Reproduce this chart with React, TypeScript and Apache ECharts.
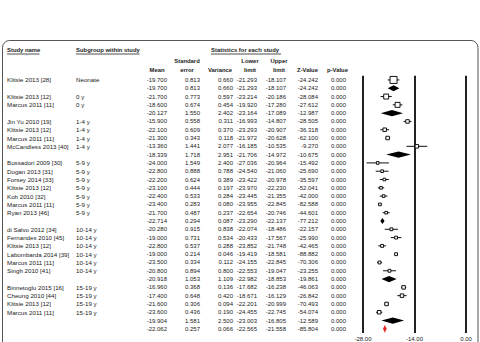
import React, { useEffect, useRef } from "react";
import * as echarts from "echarts";

// Forest plot: mean differences by age subgroup
const studyNames = [
  "Klitsie 2013 [28]", "", "Klitsie 2013 [12]", "Marcus 2011 [11]", "",
  "Jin Yu 2010 [19]", "Klitsie 2013 [12]", "Marcus 2011 [11]", "McCandless 2013 [40]", "",
  "Bussadori 2009 [30]", "Dogan 2013 [31]", "Forsey 2014 [33]", "Klitsie 2013 [12]", "Koh 2010 [32]",
  "Marcus 2011 [11]", "Ryan 2013 [46]", "",
  "di Salvo 2012 [34]", "Fernandes 2010 [45]", "Klitsie 2013 [12]", "Labombarda 2014 [39]", "Marcus 2011 [11]",
  "Singh 2010 [41]", "",
  "Binnetoglu 2015 [16]", "Cheung 2010 [44]", "Klitsie 2013 [12]", "Marcus 2011 [11]", "", "",
];
const subgroups = [
  "Neonate", "", "0 y", "0 y", "",
  "1-4 y", "1-4 y", "1-4 y", "1-4 y", "",
  "5-9 y", "5-9 y", "5-9 y", "5-9 y", "5-9 y", "5-9 y", "5-9 y", "",
  "10-14 y", "10-14 y", "10-14 y", "10-14 y", "10-14 y", "10-14 y", "",
  "15-19 y", "15-19 y", "15-19 y", "15-19 y", "", "",
];
const rowKinds = [
  "study", "sub", "study", "study", "sub",
  "study", "study", "study", "study", "sub",
  "study", "study", "study", "study", "study", "study", "study", "sub",
  "study", "study", "study", "study", "study", "study", "sub",
  "study", "study", "study", "study", "sub", "total",
];
const means = [
  -19.7, -19.7, -21.7, -18.6, -20.127,
  -15.9, -22.1, -21.3, -13.36, -18.339,
  -24.0, -22.8, -22.2, -23.1, -22.4, -23.4, -21.7, -22.714,
  -20.28, -19.0, -22.8, -19.0, -23.5, -20.8, -20.918,
  -16.96, -17.4, -21.6, -23.6, -19.904, -22.062,
];
const stdErrs = [
  0.813, 0.813, 0.773, 0.674, 1.55,
  0.558, 0.609, 0.343, 1.441, 1.718,
  1.549, 0.888, 0.624, 0.444, 0.533, 0.283, 0.487, 0.294,
  0.915, 0.731, 0.537, 0.214, 0.334, 0.894, 1.053,
  0.368, 0.648, 0.306, 0.436, 1.581, 0.257,
];
const variances = [
  0.66, 0.66, 0.597, 0.454, 2.402,
  0.311, 0.37, 0.118, 2.077, 2.951,
  2.4, 0.788, 0.389, 0.197, 0.284, 0.08, 0.237, 0.087,
  0.838, 0.534, 0.288, 0.046, 0.112, 0.8, 1.109,
  0.136, 0.42, 0.094, 0.19, 2.5, 0.066,
];
const lowerLimits = [
  -21.293, -21.293, -23.214, -19.92, -23.164,
  -16.993, -23.293, -21.972, -16.185, -21.706,
  -27.036, -24.54, -23.422, -23.97, -23.445, -23.955, -22.654, -23.29,
  -22.074, -20.433, -23.852, -19.419, -24.155, -22.553, -22.982,
  -17.682, -18.671, -22.201, -24.455, -23.003, -22.565,
];
const upperLimits = [
  -18.107, -18.107, -20.186, -17.28, -17.089,
  -14.807, -20.907, -20.628, -10.535, -14.972,
  -20.964, -21.06, -20.978, -22.23, -21.355, -22.845, -20.746, -22.137,
  -18.486, -17.567, -21.748, -18.581, -22.845, -19.047, -18.853,
  -16.238, -16.129, -20.999, -22.745, -16.805, -21.558,
];
const zValues = [
  -24.242, -24.242, -28.084, -27.612, -12.987,
  -28.505, -36.318, -62.1, -9.27, -10.675,
  -15.492, -25.69, -35.597, -52.041, -42.0, -82.588, -44.601, -77.212,
  -22.157, -25.99, -42.465, -88.882, -70.306, -23.255, -19.861,
  -46.063, -26.842, -70.493, -54.074, -12.589, -85.804,
];
const pValues = new Array(31).fill(0);

const axisTicks = [-28, -14, 0];

const FONT = "'Liberation Sans', Arial, sans-serif";
const INK = "#222";

// numeric columns: right edge of each column
const numCols: { values: number[]; right: number; digits: number }[] = [
  { values: means, right: 167, digits: 3 },
  { values: stdErrs, right: 200, digits: 3 },
  { values: variances, right: 233, digits: 3 },
  { values: lowerLimits, right: 257, digits: 3 },
  { values: upperLimits, right: 286, digits: 3 },
  { values: zValues, right: 318, digits: 3 },
  { values: pValues, right: 346, digits: 3 },
];

function studiesInGroup(label: string): number {
  return rowKinds.filter((k, i) => k === "study" && subgroups[i] === label).length;
}

export default function App() {
  const ref = useRef<HTMLDivElement>(null);

  useEffect(() => {
    if (!ref.current) return;
    const chart = echarts.init(ref.current, null, { renderer: "svg" });
    const rowIdx = means.map((_, i) => String(i));

    const hdr = (text: string, x: number, y: number, align = "center") => ({
      type: "text",
      x,
      y,
      style: {
        text,
        fill: INK,
        font: `bold 5.9px ${FONT}`,
        align,
        verticalAlign: "middle",
      },
    });
    const underline = (x1: number, x2: number, y: number) => ({
      type: "line",
      shape: { x1, y1: y, x2, y2: y },
      style: { stroke: INK, lineWidth: 0.8 },
    });

    const option: any = {
      animation: false,
      textStyle: { fontFamily: FONT },
      grid: { left: 363, right: 14, top: 75.8, height: 260.4 },
      xAxis: {
        type: "value",
        min: axisTicks[0],
        max: axisTicks[axisTicks.length - 1],
        interval: 14,
        axisLine: { show: false },
        axisTick: { show: false },
        splitLine: { show: true, lineStyle: { color: "#222", width: 2 } },
        axisLabel: {
          color: INK,
          fontSize: 6,
          fontFamily: FONT,
          margin: 3,
          formatter: (v: number) => v.toFixed(2),
        },
      },
      yAxis: {
        type: "category",
        data: rowIdx,
        inverse: true,
        show: false,
      },
      graphic: [
        {
          type: "rect",
          shape: { x: 2.5, y: 40.5, width: 475.5, height: 340, r: 7 },
          style: { fill: "none", stroke: "#555", lineWidth: 1 },
        },
        hdr("Study name", 7, 50, "left"),
        underline(7, 39.5, 54),
        hdr("Subgroup within study", 76, 50, "left"),
        underline(76, 139.5, 54),
        hdr("Statistics for each study", 211, 50, "left"),
        underline(211, 281, 54),
        hdr("Standard", 187, 61),
        hdr("error", 187, 69.5),
        hdr("Mean", 157, 69.5),
        hdr("Variance", 220, 69.5),
        hdr("Lower", 250, 61),
        hdr("limit", 250, 69.5),
        hdr("Upper", 279, 61),
        hdr("limit", 279, 69.5),
        hdr("Z-Value", 307.5, 69.5),
        hdr("p-Value", 337.5, 69.5),
      ],
      series: [
        {
          // table body: one row of text per data row
          type: "custom",
          coordinateSystem: "cartesian2d",
          clip: false,
          silent: true,
          data: means.map((_, i) => [axisTicks[0], i]),
          encode: { x: 0, y: 1 },
          renderItem: (params: any, api: any) => {
            const i = params.dataIndex;
            const y = api.coord([axisTicks[0], i])[1];
            const txt = (text: string, x: number, align: string, size: number) => ({
              type: "text",
              x,
              y,
              style: {
                text,
                fill: INK,
                font: `${size}px ${FONT}`,
                align,
                verticalAlign: "middle",
              },
            });
            const children: any[] = [];
            if (studyNames[i]) children.push(txt(studyNames[i], 7, "left", 6.2));
            if (subgroups[i]) children.push(txt(subgroups[i], 76, "left", 6.2));
            numCols.forEach((c) => {
              children.push(txt(c.values[i].toFixed(c.digits), c.right, "right", 6));
            });
            return { type: "group", children };
          },
        },
        {
          // forest markers: boxes with CI whiskers, diamonds for pooled estimates
          type: "custom",
          coordinateSystem: "cartesian2d",
          clip: false,
          silent: true,
          data: means.map((m, i) => [m, i]),
          encode: { x: 0, y: 1 },
          renderItem: (params: any, api: any) => {
            const i = params.dataIndex;
            const kind = rowKinds[i];
            const [xm, y] = api.coord([means[i], i]);
            const xl = api.coord([lowerLimits[i], i])[0];
            const xu = api.coord([upperLimits[i], i])[0];
            if (kind === "study") {
              const s = 7 / Math.sqrt(studiesInGroup(subgroups[i]));
              return {
                type: "group",
                children: [
                  {
                    type: "line",
                    shape: { x1: xl, y1: y, x2: xu, y2: y },
                    style: { stroke: "#111", lineWidth: 1 },
                  },
                  {
                    type: "rect",
                    shape: { x: xm - s / 2, y: y - s / 2, width: s, height: s },
                    style: { fill: "#fff", stroke: "#111", lineWidth: 1 },
                  },
                ],
              };
            }
            const h = kind === "total" ? 3.8 : 3.1;
            return {
              type: "polygon",
              shape: { points: [[xl, y], [xm, y - h], [xu, y], [xm, y + h]] },
              style: { fill: kind === "total" ? "#e8262b" : "#000" },
            };
          },
        },
      ],
    };

    chart.setOption(option);
    return () => chart.dispose();
  }, []);

  return (
    <div
      ref={ref}
      style={{ position: "fixed", left: 0, top: 0, width: 480, height: 342, background: "#fff" }}
    />
  );
}
